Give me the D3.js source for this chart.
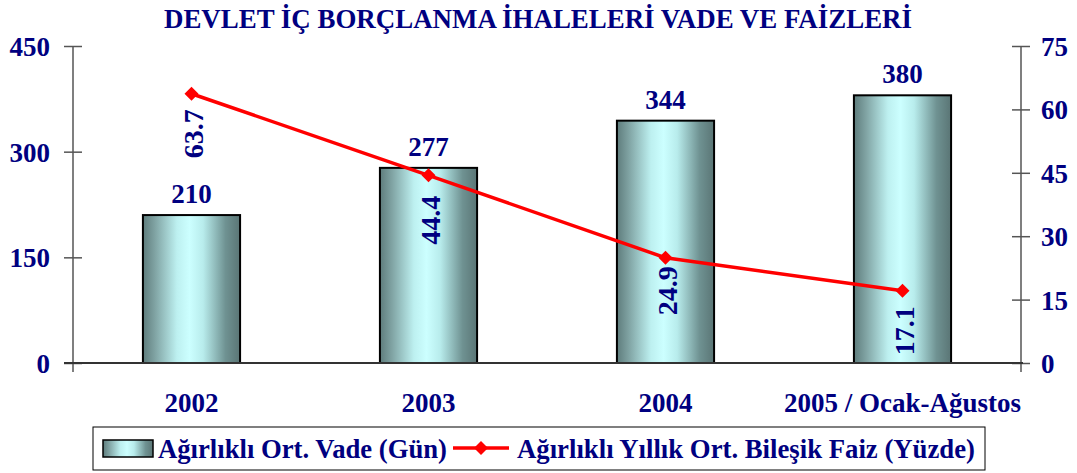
<!DOCTYPE html>
<html>
<head>
<meta charset="utf-8">
<script src="https://cdn.jsdelivr.net/npm/d3@7"></script>
<style>
body { margin: 0; background: #fff; }
text { font-family: "Liberation Serif", "Times New Roman", serif; font-weight: bold; }
</style>
</head>
<body>
<svg id="chart"></svg>
<script>
var categories = ["2002", "2003", "2004", "2005 / Ocak-Ağustos"];
var vade = [210, 277, 344, 380];
var faiz = [63.7, 44.4, 24.9, 17.1];
var leftTicks = [0, 150, 300, 450];
var rightTicks = [0, 15, 30, 45, 60, 75];
var title = "DEVLET İÇ BORÇLANMA İHALELERİ VADE VE FAİZLERİ";
var legendLabels = ["Ağırlıklı Ort. Vade (Gün)", "Ağırlıklı Yıllık Ort. Bileşik Faiz (Yüzde)"];

var width = 1077;
var height = 473;
var navy = "#000080";
var axisColor = "#555";

var svg = d3.select("#chart")
    .attr("width", width)
    .attr("height", height)

var x0 = 73, x1 = 1021, yTop = 46, yBot = 363;

var x = d3.scaleBand()
    .domain(categories)
    .range([x0, x1])
    .paddingInner(0.59)
    .paddingOuter(0.295)

var yL = d3.scaleLinear().domain([0, 450]).range([yBot, yTop])
var yR = d3.scaleLinear().domain([0, 75]).range([yBot, yTop])

// gradient for bars
var defs = svg.append("defs")
var grad = defs.append("linearGradient")
    .attr("id", "barGrad")
    .attr("x1", "0%").attr("x2", "100%")
    .attr("y1", "0%").attr("y2", "0%")
var stops = [[0, "#5e7c7c"], [0.12, "#7fa2a2"], [0.35, "#bdf0f0"], [0.48, "#ccffff"], [0.62, "#b8ecec"], [0.85, "#6f9292"], [1, "#5a7575"]]
stops.forEach(function(s) {
    grad.append("stop").attr("offset", s[0]).attr("stop-color", s[1])
})

// title
svg.append("text")
    .attr("x", 164)
    .attr("y", 28)
    .attr("font-size", 27)
    .attr("fill", navy)
    .attr("textLength", 748)
    .attr("lengthAdjust", "spacingAndGlyphs")
    .text(title)

// bars
svg.selectAll(".bar")
    .data(vade)
    .enter().append("rect")
    .attr("class", "bar")
    .attr("x", function(d, i) { return x(categories[i]); })
    .attr("y", function(d) { return yL(d); })
    .attr("width", x.bandwidth())
    .attr("height", function(d) { return yBot - yL(d); })
    .attr("fill", "url(#barGrad)")
    .attr("stroke", "#000")
    .attr("stroke-width", 2)

// bar values
svg.selectAll(".barLabel")
    .data(vade)
    .enter().append("text")
    .attr("x", function(d, i) { return x(categories[i]) + x.bandwidth() / 2; })
    .attr("y", function(d) { return yL(d) - 12; })
    .attr("text-anchor", "middle")
    .attr("font-size", 27)
    .attr("fill", navy)
    .text(function(d) { return d; })

// left axis
var leftAxis = d3.axisLeft(yL).tickValues(leftTicks).tickSize(0).tickFormat(d3.format("d"))
var gL = svg.append("g").attr("transform", "translate(" + x0 + ",0)").call(leftAxis)
gL.select(".domain").remove()
gL.selectAll("text")
    .attr("x", -23).attr("dy", "0.35em")
    .attr("font-size", 27).attr("fill", navy)
    .attr("font-family", null)
gL.selectAll(".tick").append("line")
    .attr("x1", -9).attr("x2", 9)
    .attr("stroke", axisColor).attr("stroke-width", 1.5)
svg.append("line")
    .attr("x1", x0).attr("x2", x0)
    .attr("y1", yTop).attr("y2", yBot + 9)
    .attr("stroke", axisColor).attr("stroke-width", 1.5)

// right axis
var rightAxis = d3.axisRight(yR).tickValues(rightTicks).tickSize(0).tickFormat(d3.format("d"))
var gR = svg.append("g").attr("transform", "translate(" + x1 + ",0)").call(rightAxis)
gR.select(".domain").remove()
gR.selectAll("text")
    .attr("x", 20).attr("dy", "0.35em")
    .attr("font-size", 27).attr("fill", navy)
    .attr("font-family", null)
gR.selectAll(".tick").append("line")
    .attr("x1", -9).attr("x2", 9)
    .attr("stroke", axisColor).attr("stroke-width", 1.5)
svg.append("line")
    .attr("x1", x1).attr("x2", x1)
    .attr("y1", yTop).attr("y2", yBot + 9)
    .attr("stroke", axisColor).attr("stroke-width", 1.5)

// x axis
svg.append("line")
    .attr("x1", x0 - 9).attr("x2", x1 + 2)
    .attr("y1", yBot).attr("y2", yBot)
    .attr("stroke", "#333").attr("stroke-width", 2)

svg.selectAll(".catLabel")
    .data(categories)
    .enter().append("text")
    .attr("x", function(d) { return x(d) + x.bandwidth() / 2; })
    .attr("y", 412)
    .attr("text-anchor", "middle")
    .attr("font-size", 27)
    .attr("fill", navy)
    .text(function(d) { return d; })

// line
var cx = function(d, i) { return x(categories[i]) + x.bandwidth() / 2; }
var line = d3.line()
    .x(cx)
    .y(function(d) { return yR(d); })

svg.append("path")
    .attr("d", line(faiz))
    .attr("fill", "none")
    .attr("stroke", "#ff0000")
    .attr("stroke-width", 3.5)

var diamond = "M0,-7L7,0L0,7L-7,0Z"
svg.selectAll(".pt")
    .data(faiz)
    .enter().append("path")
    .attr("d", diamond)
    .attr("transform", function(d, i) { return "translate(" + cx(d, i) + "," + yR(d) + ")"; })
    .attr("fill", "#ff0000")

// rotated line labels
var labelOffsets = [40, 45, 33, 40]
svg.selectAll(".faizLabel")
    .data(faiz)
    .enter().append("text")
    .attr("transform", function(d, i) {
        return "translate(" + (cx(d, i) + 11) + "," + (yR(d) + labelOffsets[i]) + ") rotate(-90)";
    })
    .attr("text-anchor", "middle")
    .attr("font-size", 28)
    .attr("fill", navy)
    .text(function(d) { return d.toFixed(1); })

// legend
var lg = svg.append("g")
lg.append("rect")
    .attr("x", 93).attr("y", 427)
    .attr("width", 892).attr("height", 43)
    .attr("fill", "#fff").attr("stroke", "#000").attr("stroke-width", 1)
lg.append("rect")
    .attr("x", 103).attr("y", 440)
    .attr("width", 50).attr("height", 17)
    .attr("fill", "url(#barGrad)").attr("stroke", "#000").attr("stroke-width", 1.5)
lg.append("text")
    .attr("x", 158).attr("y", 458)
    .attr("font-size", 27).attr("fill", navy)
    .attr("textLength", 289).attr("lengthAdjust", "spacingAndGlyphs")
    .text(legendLabels[0])
lg.append("line")
    .attr("x1", 453).attr("x2", 509)
    .attr("y1", 448).attr("y2", 448)
    .attr("stroke", "#ff0000").attr("stroke-width", 3.5)
lg.append("path")
    .attr("d", diamond)
    .attr("transform", "translate(481,448)")
    .attr("fill", "#ff0000")
lg.append("text")
    .attr("x", 517).attr("y", 458)
    .attr("font-size", 27).attr("fill", navy)
    .attr("textLength", 458).attr("lengthAdjust", "spacingAndGlyphs")
    .text(legendLabels[1])
</script>
</body>
</html>
